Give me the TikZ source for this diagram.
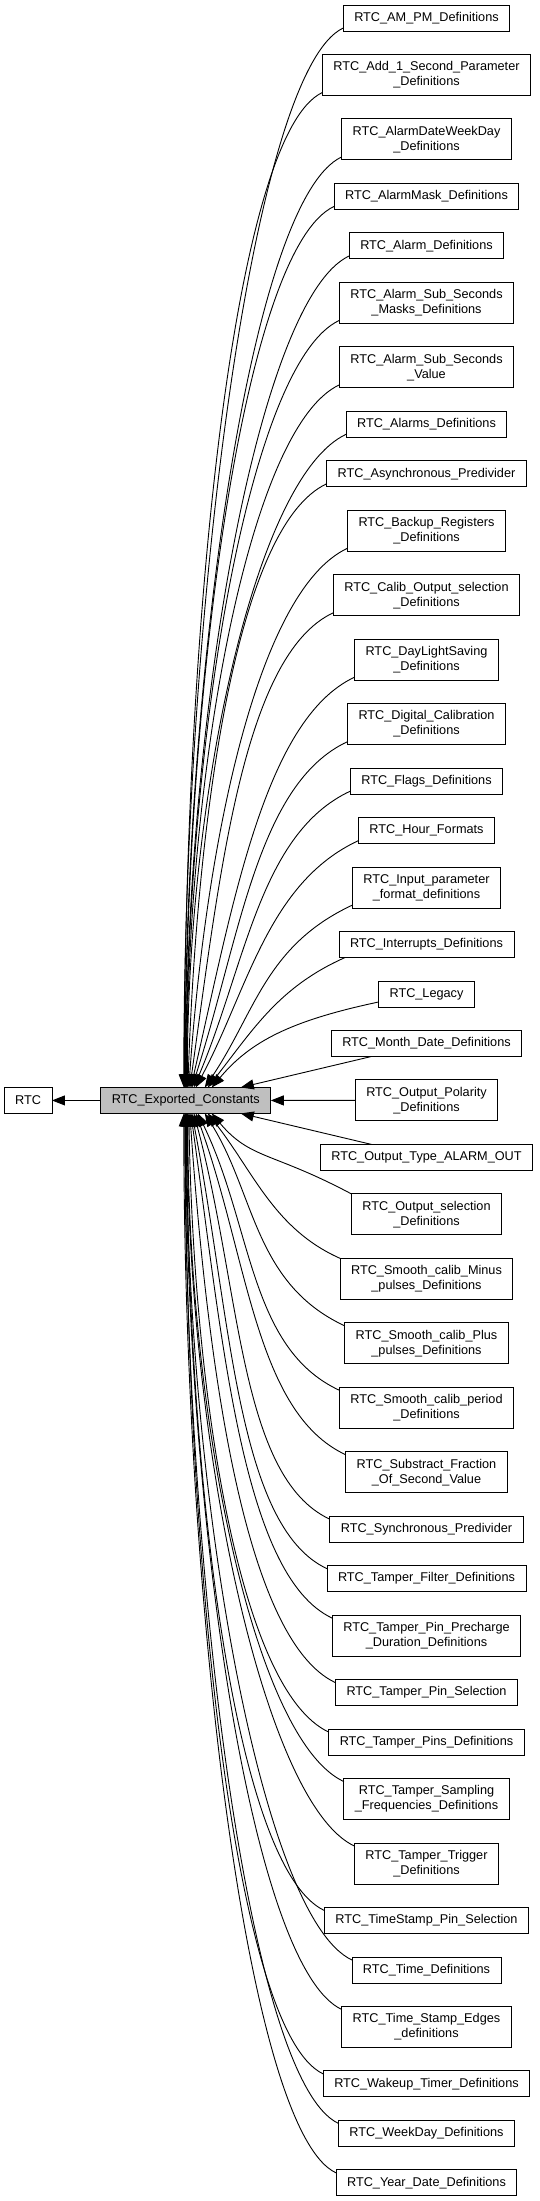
\documentclass[tikz,border=0pt]{standalone}
\usepackage{fontspec}
\setmainfont{Liberation Sans}
\usetikzlibrary{arrows.meta,positioning}

\begin{document}
\begin{tikzpicture}[>={Triangle[length=13pt,width=10pt]},x=1pt,y=1pt,node distance=23.47pt,
  box/.style={draw=black,line width=0.9pt,fill=white,inner xsep=11pt,inner ysep=0pt,
    outer sep=0pt,align=center,font=\fontsize{12.7}{15}\selectfont},
  box1/.style={box,minimum height=26pt},
  box2/.style={box,minimum height=41pt},
  edge/.style={->,line width=0.9pt}]
  \useasboundingbox (0,0) rectangle (539,-2201);

  % left column
  \node[box1,fill=black!25] (exported) at (185.8,-1100.43) {RTC\_Exported\_Constants};
  \node[box1,left=48.8pt of exported] (rtc) {RTC};

  % right column, top to bottom
  \node[box1] (ampm) at (426.5,-18) {RTC\_AM\_PM\_Definitions};
  \node[box2,below=of ampm] (addsecond) {RTC\_Add\_1\_Second\_Parameter\\\_Definitions};
  \node[box2,below=of addsecond] (alarmdwd) {RTC\_AlarmDateWeekDay\\\_Definitions};
  \node[box1,below=of alarmdwd] (alarmmask) {RTC\_AlarmMask\_Definitions};
  \node[box1,below=of alarmmask] (alarmdef) {RTC\_Alarm\_Definitions};
  \node[box2,below=of alarmdef] (subsecmask) {RTC\_Alarm\_Sub\_Seconds\\\_Masks\_Definitions};
  \node[box2,below=of subsecmask] (subsecvalue) {RTC\_Alarm\_Sub\_Seconds\\\_Value};
  \node[box1,below=of subsecvalue] (alarms) {RTC\_Alarms\_Definitions};
  \node[box1,below=of alarms] (asyncpre) {RTC\_Asynchronous\_Predivider};
  \node[box2,below=of asyncpre] (backup) {RTC\_Backup\_Registers\\\_Definitions};
  \node[box2,below=of backup] (caliboutput) {RTC\_Calib\_Output\_selection\\\_Definitions};
  \node[box2,below=of caliboutput] (daylight) {RTC\_DayLightSaving\\\_Definitions};
  \node[box2,below=of daylight] (digitalcalib) {RTC\_Digital\_Calibration\\\_Definitions};
  \node[box1,below=of digitalcalib] (flags) {RTC\_Flags\_Definitions};
  \node[box1,below=of flags] (hourfmt) {RTC\_Hour\_Formats};
  \node[box2,below=of hourfmt] (inputfmt) {RTC\_Input\_parameter\\\_format\_definitions};
  \node[box1,below=of inputfmt] (interrupts) {RTC\_Interrupts\_Definitions};
  \node[box1,below=of interrupts] (legacy) {RTC\_Legacy};
  \node[box1,below=of legacy] (monthdate) {RTC\_Month\_Date\_Definitions};
  \node[box2,below=of monthdate] (polarity) {RTC\_Output\_Polarity\\\_Definitions};
  \node[box1,below=of polarity] (outtype) {RTC\_Output\_Type\_ALARM\_OUT};
  \node[box2,below=of outtype] (outselect) {RTC\_Output\_selection\\\_Definitions};
  \node[box2,below=of outselect] (smoothminus) {RTC\_Smooth\_calib\_Minus\\\_pulses\_Definitions};
  \node[box2,below=of smoothminus] (smoothplus) {RTC\_Smooth\_calib\_Plus\\\_pulses\_Definitions};
  \node[box2,below=of smoothplus] (smoothperiod) {RTC\_Smooth\_calib\_period\\\_Definitions};
  \node[box2,below=of smoothperiod] (substract) {RTC\_Substract\_Fraction\\\_Of\_Second\_Value};
  \node[box1,below=of substract] (syncpre) {RTC\_Synchronous\_Predivider};
  \node[box1,below=of syncpre] (tamperfilter) {RTC\_Tamper\_Filter\_Definitions};
  \node[box2,below=of tamperfilter] (precharge) {RTC\_Tamper\_Pin\_Precharge\\\_Duration\_Definitions};
  \node[box1,below=of precharge] (pinselect) {RTC\_Tamper\_Pin\_Selection};
  \node[box1,below=of pinselect] (tamperpins) {RTC\_Tamper\_Pins\_Definitions};
  \node[box2,below=of tamperpins] (sampling) {RTC\_Tamper\_Sampling\\\_Frequencies\_Definitions};
  \node[box2,below=of sampling] (trigger) {RTC\_Tamper\_Trigger\\\_Definitions};
  \node[box1,below=of trigger] (tspin) {RTC\_TimeStamp\_Pin\_Selection};
  \node[box1,below=of tspin] (timedef) {RTC\_Time\_Definitions};
  \node[box2,below=of timedef] (tsedges) {RTC\_Time\_Stamp\_Edges\\\_definitions};
  \node[box1,below=of tsedges] (wakeup) {RTC\_Wakeup\_Timer\_Definitions};
  \node[box1,below=of wakeup] (weekday) {RTC\_WeekDay\_Definitions};
  \node[box1,below=of weekday] (yeardate) {RTC\_Year\_Date\_Definitions};

  % straight connectors
  \draw[edge] (exported.west) -- (rtc.east);
  \draw[edge] (polarity.west) -- (exported.east);
  \draw[edge] ([xshift=-55pt]monthdate.south) -- ([xshift=55pt]exported.north);
  \draw[edge] ([xshift=-55pt]outtype.north) -- ([xshift=55pt]exported.south);

  % upper fan
  \foreach \n/\tip/\ang/\din/\dout in {ampm/-2/90/476/100, addsecond/-1.5/90/448/100,
      alarmdwd/-1/90/418/100, alarmmask/-0.5/90/396/100, alarmdef/0/90/374/100,
      subsecmask/0.5/90/345/100, subsecvalue/1/90/316/100, alarms/1.5/90/294/100,
      asyncpre/2/88/272/100, backup/3/86/243/100, caliboutput/4/82/214/100,
      daylight/5/77/185/100, digitalcalib/6/72/156/100, flags/8/67/133/100,
      hourfmt/10/62/111/100, inputfmt/19/56/90/96}
    \draw[edge] ([yshift=3pt]\n.south west) .. controls +(205:\dout) and +(\ang:\din)
      .. ([xshift=\tip pt]exported.north);
  \draw[edge] ([xshift=6pt]interrupts.south west) .. controls +(204:72) and +(52:75)
    .. ([xshift=22pt]exported.north);
  \draw[edge] ([yshift=5pt]legacy.south west) .. controls +(192:90) and +(50:60)
    .. ([xshift=26pt]exported.north);

  % lower fan
  \draw[edge] (outselect.north west) .. controls +(152:90) and +(-50:60)
    .. ([xshift=26pt]exported.south);
  \draw[edge] (smoothminus.north west) .. controls +(156:72) and +(-52:75)
    .. ([xshift=22pt]exported.south);
  \foreach \n/\tip/\ang/\din/\dout in {smoothplus/19/-58/95/100, smoothperiod/12/-64/125/100,
      substract/10/-70/153/100, syncpre/8/-75/183/100, tamperfilter/6/-79/205/100,
      precharge/5/-82/227/100, pinselect/4/-86/256/100, tamperpins/3/-89/279/100,
      sampling/2/-90/300/100, trigger/1.5/-90/330/100, tspin/1/-90/359/100,
      timedef/0.5/-90/381/100, tsedges/0/-90/403/100, wakeup/-0.5/-90/432/100,
      weekday/-1/-90/455/100, yeardate/-2/-90/477/100}
    \draw[edge] ([yshift=-3pt]\n.north west) .. controls +(155:\dout) and +(\ang:\din)
      .. ([xshift=\tip pt]exported.south);
\end{tikzpicture}
\end{document}
